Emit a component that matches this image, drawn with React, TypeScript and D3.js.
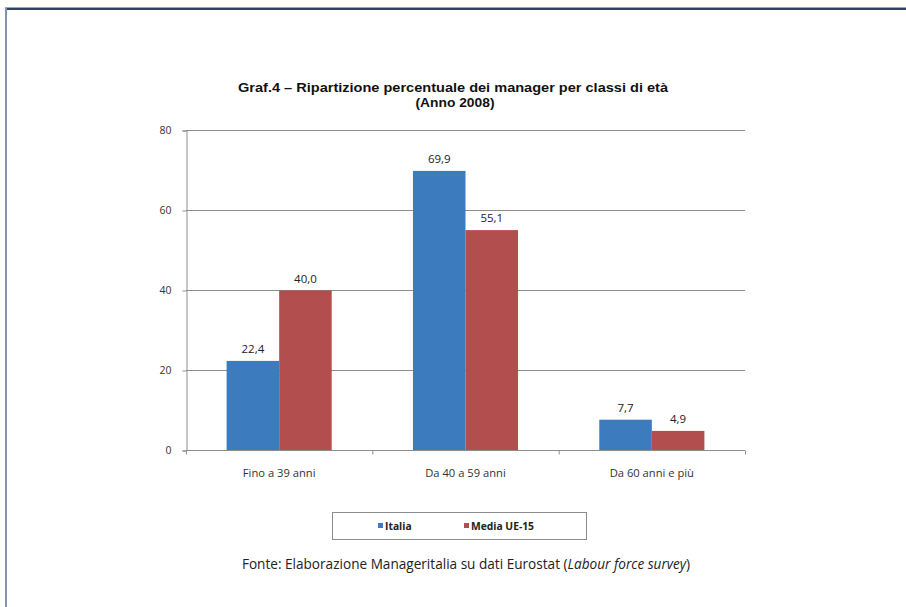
import { useEffect, useRef } from 'react';
import * as d3 from 'd3';

const categories = ['Fino a 39 anni', 'Da 40 a 59 anni', 'Da 60 anni e più'];
const seriesNames = ['Italia', 'Media UE-15'];
const italia = [22.4, 69.9, 7.7];
const mediaUE = [40.0, 55.1, 4.9];
const yTicks = [0, 20, 40, 60, 80];
const colors = ['#3c7bbd', '#b24f4e'];

const W = 906;
const H = 607;

export default function App() {
  const svgRef = useRef<SVGSVGElement>(null);

  useEffect(() => {
    if (!svgRef.current) return;
    const svg = d3.select(svgRef.current);
    svg.selectAll('*').remove();

    const left = 186;
    const right = 745;
    const top = 130.5;
    const bottom = 450.5;

    // page frame
    svg.append('rect').attr('x', 0).attr('y', 0).attr('width', W).attr('height', H).attr('fill', '#fff');
    svg.append('line').attr('x1', 5).attr('x2', W).attr('y1', 7.5).attr('y2', 7.5)
      .attr('stroke', '#9aa6bf').attr('stroke-width', 1);
    svg.append('line').attr('x1', 5).attr('x2', W).attr('y1', 9).attr('y2', 9)
      .attr('stroke', '#34425f').attr('stroke-width', 2);
    svg.append('line').attr('x1', 6).attr('x2', 6).attr('y1', 8).attr('y2', H)
      .attr('stroke', '#8592ad').attr('stroke-width', 2);

    // title
    const title = svg.append('text')
      .attr('text-anchor', 'middle')
      .attr('font-family', '"Liberation Sans", Arial, sans-serif')
      .attr('font-weight', 'bold')
      .attr('font-size', 13)
      .attr('fill', '#111');
    title.append('tspan').attr('x', 453).attr('y', 92)
      .attr('textLength', 430).attr('lengthAdjust', 'spacingAndGlyphs')
      .text('Graf.4 – Ripartizione percentuale dei manager per classi di età');
    title.append('tspan').attr('x', 455).attr('y', 107)
      .attr('textLength', 79).attr('lengthAdjust', 'spacingAndGlyphs')
      .text('(Anno 2008)');

    const y = d3.scaleLinear().domain([0, 80]).range([bottom, top]);
    const x0 = d3.scaleBand<string>().domain(categories).range([left, right])
      .paddingInner(0.436).paddingOuter(0.218);
    const x1 = d3.scaleBand<string>().domain(seriesNames).range([0, x0.bandwidth()]);

    // gridlines
    svg.append('g').selectAll('line').data(yTicks.filter((t) => t > 0)).join('line')
      .attr('x1', left).attr('x2', right)
      .attr('y1', (d) => y(d)).attr('y2', (d) => y(d))
      .attr('stroke', '#8c8c8c').attr('stroke-width', 1);

    // y axis
    const yAxis = svg.append('g').attr('transform', `translate(${left + 0.5},0)`)
      .call(d3.axisLeft(y).tickValues(yTicks).tickSize(4).tickPadding(11));
    yAxis.select('.domain').attr('stroke', '#8c8c8c');
    yAxis.selectAll('.tick line').attr('stroke', '#8c8c8c');
    yAxis.selectAll('.tick text').attr('font-family', '"Open Sans", sans-serif')
      .attr('font-size', 10.5).attr('fill', '#333');

    const rows = categories.map((c, i) => [
      { cat: c, s: seriesNames[0], v: italia[i], c: colors[0] },
      { cat: c, s: seriesNames[1], v: mediaUE[i], c: colors[1] },
    ]).flat();

    svg.append('g').selectAll('rect').data(rows).join('rect')
      .attr('x', (d) => x0(d.cat)! + x1(d.s)!)
      .attr('width', x1.bandwidth())
      .attr('y', (d) => y(d.v))
      .attr('height', (d) => y(0) - y(d.v))
      .attr('fill', (d) => d.c);

    svg.append('g').selectAll('text').data(rows).join('text')
      .attr('x', (d) => x0(d.cat)! + x1(d.s)! + x1.bandwidth() / 2)
      .attr('y', (d) => y(d.v) - 8)
      .attr('text-anchor', 'middle')
      .attr('font-family', '"Open Sans", sans-serif')
      .attr('font-size', 11.5)
      .attr('fill', '#222')
      .text((d) => d3.format('.1f')(d.v).replace('.', ','));

    // x axis
    const xAxis = svg.append('g').attr('transform', `translate(0,${bottom})`);
    xAxis.append('line').attr('x1', left).attr('x2', right).attr('stroke', '#8c8c8c');
    xAxis.selectAll('line.tk').data(d3.range(categories.length + 1)).join('line')
      .attr('class', 'tk')
      .attr('x1', (i) => left + i * x0.step() + 0.5).attr('x2', (i) => left + i * x0.step() + 0.5)
      .attr('y1', 0).attr('y2', 4).attr('stroke', '#8c8c8c');
    xAxis.selectAll('text').data(categories).join('text')
      .attr('x', (d) => x0(d)! + x0.bandwidth() / 2)
      .attr('y', 26)
      .attr('text-anchor', 'middle')
      .attr('font-family', '"Open Sans", sans-serif')
      .attr('font-size', 11.2)
      .attr('fill', '#333')
      .text((d) => d);

    // legend
    const lg = svg.append('g');
    lg.append('rect').attr('x', 332.5).attr('y', 512.5).attr('width', 254).attr('height', 27)
      .attr('fill', '#fff').attr('stroke', '#8c8c8c');
    const lx = [378, 464];
    seriesNames.forEach((s, i) => {
      lg.append('rect').attr('x', lx[i]).attr('y', 523).attr('width', 5).attr('height', 5).attr('fill', colors[i]);
      lg.append('text').attr('x', lx[i] + 7).attr('y', 530)
        .attr('font-family', '"Open Sans", sans-serif').attr('font-weight', 'bold')
        .attr('font-size', 10.3).attr('fill', '#222').text(s);
    });

    // source
    const src = svg.append('text').attr('x', 466).attr('y', 569).attr('text-anchor', 'middle')
      .attr('font-family', '"Open Sans", sans-serif').attr('font-size', 13.6).attr('fill', '#222');
    src.append('tspan').text('Fonte: Elaborazione Manageritalia su dati Eurostat (');
    src.append('tspan').attr('font-style', 'italic').text('Labour force survey');
    src.append('tspan').text(')');
  }, []);

  return (
    <svg ref={svgRef} width={W} height={H}
      style={{ position: 'absolute', left: 0, top: 0, display: 'block' }} />
  );
}
